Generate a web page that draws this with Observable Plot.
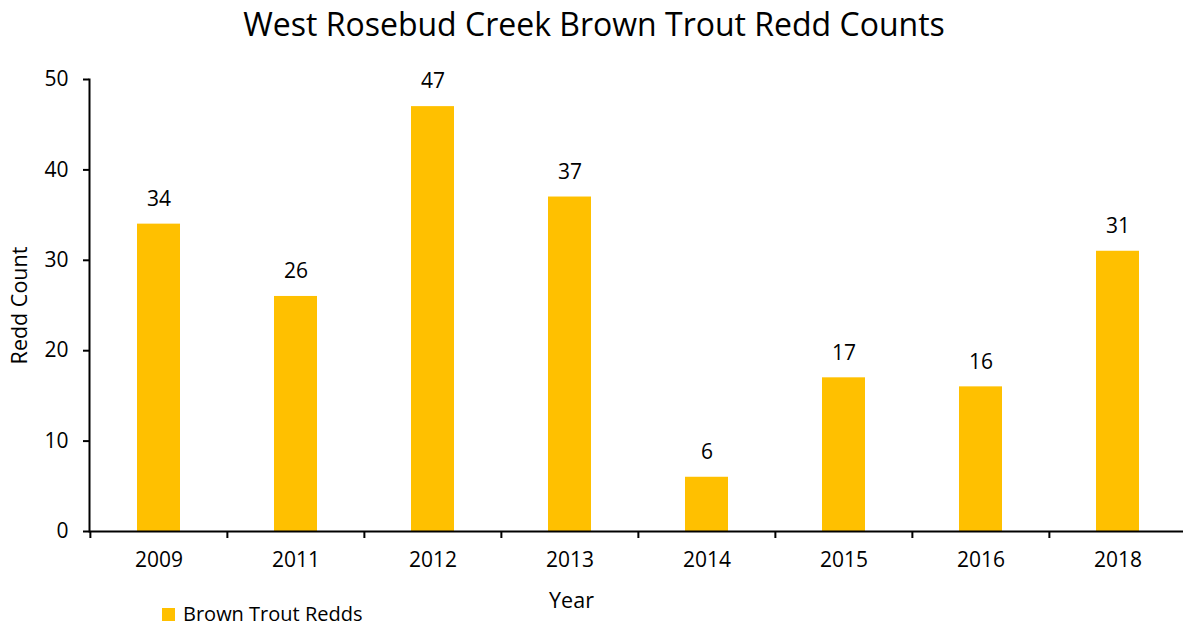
<!DOCTYPE html>
<html>
<head>
<meta charset="utf-8">
<script src="https://cdn.jsdelivr.net/npm/d3@7"></script>
<script src="https://cdn.jsdelivr.net/npm/@observablehq/plot@0.6"></script>
<style>
  body { margin: 0; background: #fff; font-family: "Open Sans", sans-serif; }
  #wrap { position: relative; width: 1183px; height: 629px; overflow: hidden; }
  #title { height: 62px; text-align: center; font-size: 32px; color: #000; line-height: 48px; padding-left: 5px; }
  #legend { position: absolute; left: 162px; top: 603px; height: 22px; display: flex; align-items: center; font-size: 20px; line-height: 22px; color: #000; }
  #legend .sw { width: 13px; height: 13px; margin-right: 8px; }
</style>
</head>
<body>
<div id="wrap">
  <div id="title"></div>
  <div id="chart"></div>
  <div id="legend"></div>
</div>
<script>
const titleText = "West Rosebud Creek Brown Trout Redd Counts";
const years = ["2009", "2011", "2012", "2013", "2014", "2015", "2016", "2018"];
const redds = [34, 26, 47, 37, 6, 17, 16, 31];
const yTicks = [0, 10, 20, 30, 40, 50];
const seriesName = "Brown Trout Redds";
const xTitle = "Year";
const yTitle = "Redd Count";
const barColor = "#FFC000";

const data = years.map((y, i) => ({year: y, value: redds[i]}));

document.getElementById("title").textContent = titleText;
const leg = document.getElementById("legend");
leg.innerHTML = `<div class="sw" style="background:${barColor}"></div><span>${seriesName}</span>`;

const xRange = [89, 1187];
const halfStep = (xRange[1] - xRange[0]) / years.length / 2;

const chart = Plot.plot({
  width: 1183,
  height: 567,
  marginLeft: 89,
  marginRight: 0,
  marginTop: 17,
  marginBottom: 98,
  style: {fontFamily: "Open Sans, sans-serif", fontSize: "21px", color: "#000", background: "#fff"},
  x: {type: "band", domain: years, range: xRange, padding: 0},
  y: {domain: [0, 50], ticks: yTicks},
  marks: [
    Plot.barY(data, {x: "year", y: "value", fill: barColor, insetLeft: 47, insetRight: 47}),
    Plot.text(data, {x: "year", y: "value", text: d => String(d.value), dy: -25, fontSize: 21, fill: "#000"}),
    Plot.axisY({ticks: yTicks, tickSize: 6, tickPadding: 15, strokeWidth: 2, label: null, fontSize: 21}),
    Plot.axisX({tickSize: 0, tickPadding: 21, label: null, fontSize: 21}),
    Plot.axisX({tickSize: 7, text: null, label: null, dx: -halfStep, strokeWidth: 2}),
    Plot.frame({anchor: "left", strokeWidth: 2, stroke: "#000"}),
    Plot.ruleY([0], {stroke: "#000", strokeWidth: 2}),
    Plot.text([yTitle], {frameAnchor: "left", textAnchor: "middle", rotate: -90, dx: -69, fontSize: 21.5, fill: "#000"}),
    Plot.text([xTitle], {frameAnchor: "bottom", dx: -65, dy: 76, fontSize: 21.5, fill: "#000"})
  ]
});
document.getElementById("chart").appendChild(chart);
</script>
</body>
</html>
